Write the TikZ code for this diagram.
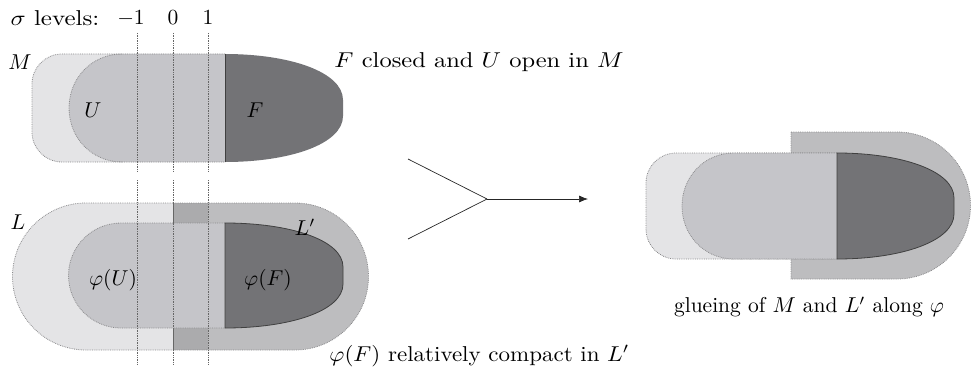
\documentclass[tikz,border=0pt]{standalone}
\usetikzlibrary{arrows.meta}
\definecolor{lightM}{HTML}{E4E4E6}
\definecolor{Ucol}{HTML}{C5C5C9}
\definecolor{Fcol}{HTML}{737376}
\definecolor{Lpcol}{HTML}{BDBDBF}
\definecolor{stripcol}{HTML}{ABABAD}
\definecolor{edgecol}{HTML}{8A8A8C}
\tikzset{
  outl/.style={draw=edgecol, densely dotted, line width=0.8pt},
  level/.style={draw=gray!80!black, densely dotted, line width=0.7pt},
  fedge/.style={draw=black!75, line width=0.8pt},
  lbl/.style={font=\normalsize, inner sep=0pt, scale=2.15},
  widelbl/.style={font=\normalsize, inner sep=0pt, xscale=#1, yscale=2.15},
  conn/.style={draw=black!85, line width=0.7pt}
}
\begin{document}
\begin{tikzpicture}[x=1pt,y=-1pt]
\useasboundingbox (0,0) rectangle (973,369);

% ---------- top figure: M, U, F ----------
\fill[lightM, rounded corners=30] (228,54) -- (32,54) -- (32,162) -- (228,162) -- cycle;
\fill[Ucol] (225,54) -- (122,54) .. controls (92,54) and (69,78) .. (69,108)
  .. controls (69,138) and (92,162) .. (122,162) -- (225,162) -- cycle;
\fill[Fcol] (225,54) .. controls (290,54) and (343,72) .. (343,100) -- (343,116)
  .. controls (343,144) and (290,162) .. (225,162) -- cycle;
\draw[outl, rounded corners=30] (225,54) -- (32,54) -- (32,162) -- (225,162);
\draw[outl] (122,54) .. controls (92,54) and (69,78) .. (69,108)
  .. controls (69,138) and (92,162) .. (122,162);
\draw[fedge] (225,54) -- (225,162);
\foreach \x in {137,173,208} \draw[level] (\x,33) -- (\x,172);

% ---------- bottom figure: L, L', phi(U), phi(F) ----------
\fill[lightM] (174,203) -- (86,203) .. controls (45.4,203) and (12.5,236) .. (12.5,276.5)
  .. controls (12.5,317) and (45.4,350) .. (86,350) -- (174,350) -- cycle;
\fill[Lpcol] (173,203) -- (295,203) .. controls (335.6,203) and (368.5,236) .. (368.5,276.5)
  .. controls (368.5,317) and (335.6,350) .. (295,350) -- (173,350) -- cycle;
\fill[stripcol] (173,203) rectangle (208,350);
\draw[outl] (173,203) -- (86,203) .. controls (45.4,203) and (12.5,236) .. (12.5,276.5)
  .. controls (12.5,317) and (45.4,350) .. (86,350) -- (173,350);
\draw[outl] (173,203) -- (295,203) .. controls (335.6,203) and (368.5,236) .. (368.5,276.5)
  .. controls (368.5,317) and (335.6,350) .. (295,350) -- (173,350);
\fill[Ucol] (225,223) -- (121,223) .. controls (92,223) and (68.5,246.5) .. (68.5,275.5)
  .. controls (68.5,304.5) and (92,328) .. (121,328) -- (225,328) -- cycle;
\draw[outl] (225,223) -- (121,223) .. controls (92,223) and (68.5,246.5) .. (68.5,275.5)
  .. controls (68.5,304.5) and (92,328) .. (121,328) -- (225,328);
\fill[Fcol] (225,223) .. controls (290,223) and (343,240) .. (343,267) -- (343,284)
  .. controls (343,311) and (290,328) .. (225,328) -- cycle;
\draw[fedge] (225,223) .. controls (290,223) and (343,240) .. (343,267) -- (343,284)
  .. controls (343,311) and (290,328) .. (225,328) -- cycle;
\draw[draw=black!60, line width=1pt] (173,203) -- (173,223) (173,328) -- (173,350);
\foreach \x in {137,173,208} \draw[level] (\x,180) -- (\x,365);

% ---------- right figure: glueing ----------
\fill[Lpcol] (791,132) -- (897,132) .. controls (937.6,132) and (970.5,165) .. (970.5,205.5)
  .. controls (970.5,246) and (937.6,279) .. (897,279) -- (791,279) -- cycle;
\draw[outl] (791,132) -- (897,132) .. controls (937.6,132) and (970.5,165) .. (970.5,205.5)
  .. controls (970.5,246) and (937.6,279) .. (897,279) -- (791,279) -- cycle;
\begin{scope}[shift={(612,99)}]
\fill[lightM, rounded corners=30] (228,54) -- (34,54) -- (34,160) -- (228,160) -- cycle;
\draw[outl, rounded corners=30] (225,54) -- (34,54) -- (34,160) -- (225,160);
\fill[Ucol] (225,54) -- (122,54) .. controls (92,54) and (70,78) .. (70,107)
  .. controls (70,136) and (92,160) .. (122,160) -- (225,160) -- cycle;
\draw[outl] (225,54) -- (122,54) .. controls (92,54) and (70,78) .. (70,107)
  .. controls (70,136) and (92,160) .. (122,160) -- (225,160);
\fill[Fcol] (225,54) .. controls (290,54) and (342,72) .. (342,99) -- (342,115)
  .. controls (342,142) and (290,160) .. (225,160) -- cycle;
\draw[fedge] (225,54) .. controls (290,54) and (342,72) .. (342,99) -- (342,115)
  .. controls (342,142) and (290,160) .. (225,160) -- cycle;
\end{scope}

% ---------- labels ----------
\node[widelbl=2.5, anchor=west] (sig) at (10,18) {$\sigma$ levels:};
\node[lbl] (lm1) at (131,18) {$-1$};
\node[lbl] (l0) at (173,18) {$0$};
\node[lbl] (l1) at (208,18) {$1$};
\node[lbl] (Mlab) at (20,62) {$M$};
\node[widelbl=2.45, anchor=west] (top) at (334,62) {$F$ closed and $U$ open in $M$};
\node[lbl] (Ulab) at (93,110) {$U$};
\node[lbl] (Flab) at (255,110) {$F$};
\node[lbl] (Llab) at (18,222) {$L$};
\node[lbl] (Lplab) at (305,227) {$L'$};
\node[lbl] (pU) at (113,280) {$\varphi(U)$};
\node[lbl] (pF) at (268,280) {$\varphi(F)$};
\node[widelbl=2.3, anchor=west] (bot) at (329,356) {$\varphi(F)$ relatively compact in $L'$};
\node[lbl] (cap) at (809,307) {glueing of $M$ and $L'$ along $\varphi$};

% ---------- arrow ----------
\coordinate (a1) at (408,159);
\coordinate (a2) at (408,239);
\coordinate (a3) at (487,199);
\coordinate (a4) at (588,199);
\draw[conn] (a1) -- (a3);
\draw[conn] (a2) -- (a3);
\draw[conn, -{Latex[length=9pt, width=7pt]}] (a3) -- (a4);
\end{tikzpicture}
\end{document}
